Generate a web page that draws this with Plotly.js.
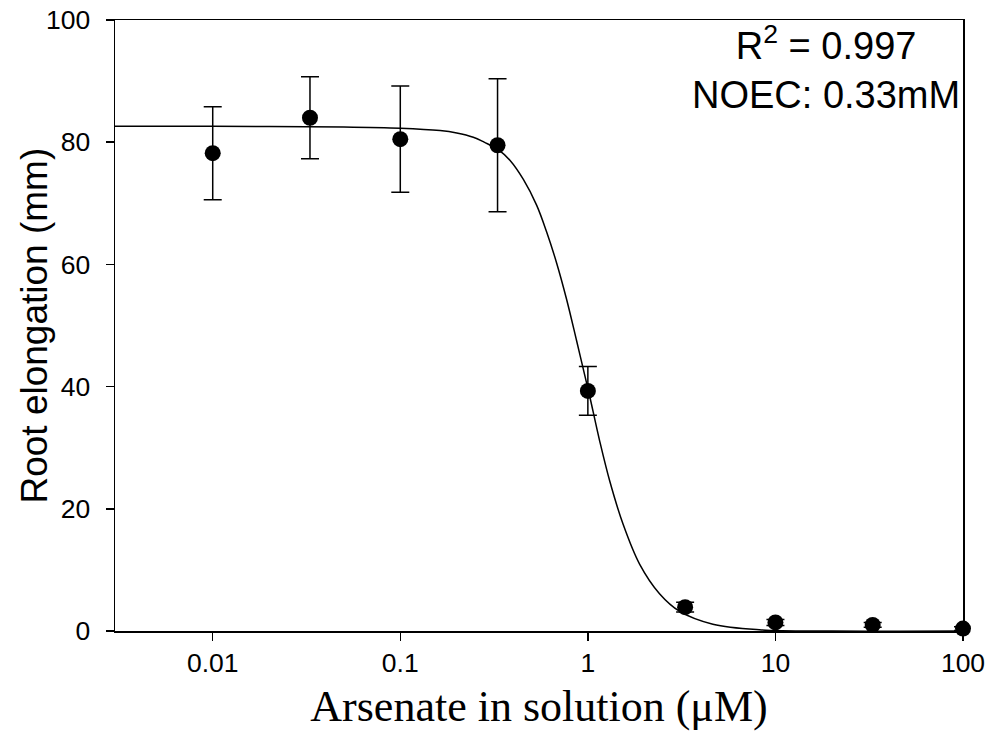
<!DOCTYPE html>
<html>
<head>
<meta charset="utf-8">
<script src="https://cdn.plot.ly/plotly-3.0.1.min.js"></script>
<style>html,body{margin:0;padding:0;background:#fff;}#chart{width:995px;height:743px;}</style>
</head>
<body>
<div id="chart"></div>
<script>
// Measured data (arsenate concentration, µM)
const concentration = [0.01, 0.033, 0.1, 0.33, 1, 3.3, 10, 33, 100];
const rootElongation = [78.2, 84.0, 80.5, 79.5, 39.3, 3.9, 1.4, 1.0, 0.4];
const stdError = [7.6, 6.7, 8.7, 10.9, 4.0, 0.8, 0.5, 0.4, 0.3];

// Fitted curve
const curveX = [0.003, 0.01, 0.05, 0.1, 0.163, 0.2, 0.245, 0.28, 0.333, 0.385, 0.453, 0.533, 0.603, 0.682, 0.770, 0.871, 0.984, 1.025, 1.158, 1.309, 1.54, 1.89, 2.41, 3.09, 4.64, 8.2, 20, 100];
const curveY = [82.6, 82.6, 82.5, 82.3, 81.9, 81.5, 80.8, 80.0, 78.8, 77.0, 73.9, 69.7, 65.3, 60.2, 54.3, 47.5, 40.6, 38.3, 31.0, 24.5, 17.5, 10.9, 6.1, 3.2, 1.1, 0.2, 0.0, 0.0];

const xTickVals = [0.01, 0.1, 1, 10, 100];
const xTickText = ['0.01', '0.1', '1', '10', '100'];
const yTickVals = [0, 20, 40, 60, 80, 100];

const fitTrace = {
  x: curveX, y: curveY, type: 'scatter', mode: 'lines',
  line: {color: '#000', width: 1.5, shape: 'spline', smoothing: 1},
  hoverinfo: 'skip', showlegend: false
};
const dataTrace = {
  x: concentration, y: rootElongation, type: 'scatter', mode: 'markers',
  marker: {color: '#000', size: 16},
  error_y: {type: 'data', array: stdError, visible: true, color: '#000', thickness: 1.5, width: 9},
  cliponaxis: false, showlegend: false
};

const font = 'Liberation Sans, Arial, sans-serif';
const layout = {
  width: 995, height: 743,
  margin: {l: 115, r: 32, t: 20, b: 112},
  paper_bgcolor: '#fff', plot_bgcolor: '#fff',
  showlegend: false,
  xaxis: {
    type: 'log', range: [-2.521, 2],
    tickvals: xTickVals, ticktext: xTickText,
    ticks: 'outside', ticklen: 8, tickwidth: 1.5, tickcolor: '#000',
    showline: true, linecolor: '#000', linewidth: 1.5, mirror: true,
    showgrid: false, zeroline: false,
    tickfont: {family: font, size: 26.5, color: '#000'},
    title: {text: 'Arsenate in solution (\u03BCM)', font: {family: 'Liberation Serif, Times New Roman, serif', size: 44, color: '#000'}, standoff: 13}
  },
  yaxis: {
    range: [0, 100],
    tickvals: yTickVals,
    ticks: 'outside', ticklen: 8, tickwidth: 1.5, tickcolor: '#000',
    ticklabelstandoff: 10,
    showline: true, linecolor: '#000', linewidth: 1.5, mirror: true,
    showgrid: false, zeroline: false,
    tickfont: {family: font, size: 26.5, color: '#000'}
  },
  annotations: [{
    xref: 'paper', yref: 'paper', x: 0.8385, y: 1.005, xanchor: 'center', yanchor: 'top',
    text: 'R<sup>2</sup> = 0.997<br>NOEC: 0.33mM', showarrow: false, align: 'center',
    font: {family: font, size: 38, color: '#000'}
  }, {
    xref: 'paper', yref: 'paper', x: -0.0955, y: 0.5, xanchor: 'center', yanchor: 'middle',
    text: 'Root elongation (mm)', textangle: -90, showarrow: false,
    font: {family: font, size: 37, color: '#000'}
  }]
};

Plotly.newPlot('chart', [fitTrace, dataTrace], layout, {displayModeBar: false, staticPlot: true});
</script>
</body>
</html>
